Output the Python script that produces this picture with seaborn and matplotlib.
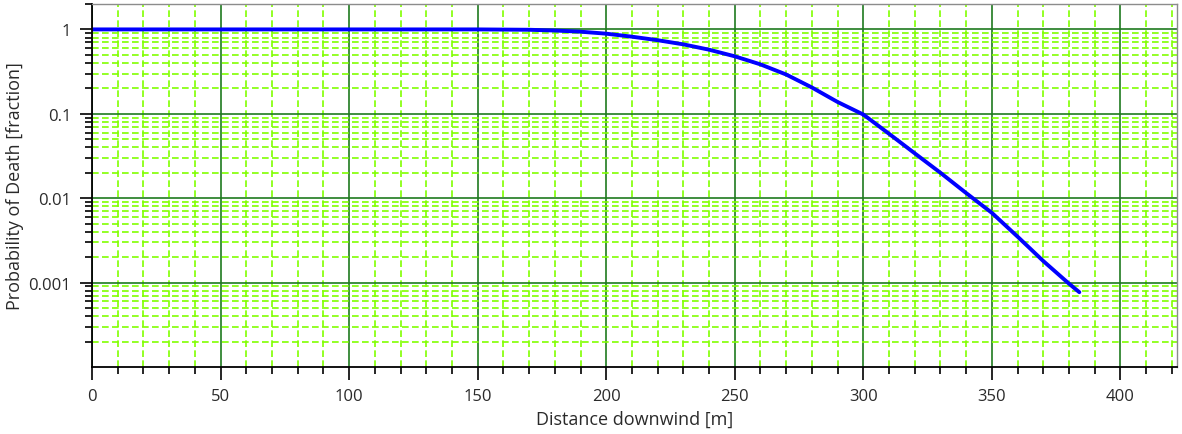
#Import libraries
import numpy as np
import pandas as pd
import matplotlib.pyplot as plt
import seaborn as sns
from matplotlib.ticker import LogLocator, MultipleLocator, FixedLocator, NullFormatter

#Data
distance = [0, 50, 100, 150, 170, 180, 190, 200, 210, 220, 230, 240, 250, 260, 270,
            280, 290, 300, 310, 320, 330, 340, 350, 360, 370, 380, 384]
prob_death = [1.0, 1.0, 1.0, 1.0, 0.99, 0.97, 0.94, 0.89, 0.82, 0.745, 0.665, 0.575, 0.48,
              0.385, 0.292, 0.205, 0.138, 0.098, 0.058, 0.034, 0.020, 0.0115, 0.0067,
              0.0035, 0.0018, 0.00097, 0.00077]
x_ticks = [0, 50, 100, 150, 200, 250, 300, 350, 400]
y_ticks = [1, 0.1, 0.01, 0.001]
y_tick_labels = ['1', '0.1', '0.01', '0.001']

df = pd.DataFrame({'Distance': distance, 'Probability': prob_death})

sns.set_style('ticks')
plt.rcParams['font.family'] = ['Open Sans', 'DejaVu Sans']

fig = plt.figure(figsize=(11.82, 4.35), dpi=100)
ax = fig.add_axes([0.0778, 0.154, 0.918, 0.8345])

sns.lineplot(x='Distance', y='Probability', data=df, color='#0000ff', linewidth=2.8, ax=ax)

ax.set_yscale('log')
ax.set_xlim(0, 422)
ax.set_ylim(0.0001, 2)

#ticks
ax.xaxis.set_major_locator(FixedLocator(x_ticks))
ax.xaxis.set_minor_locator(MultipleLocator(10))
ax.yaxis.set_major_locator(FixedLocator(y_ticks))
ax.set_yticklabels(y_tick_labels)
ax.yaxis.set_minor_locator(LogLocator(base=10, subs=np.arange(2, 10)))
ax.yaxis.set_minor_formatter(NullFormatter())
ax.tick_params(which='major', length=9, width=1.2, color='black', labelsize=12,
               labelcolor='#2a2a2a', pad=6)
ax.tick_params(which='minor', length=5, width=1.2, color='black')

#grid
ax.grid(which='minor', color='#80ff00', linestyle=(0, (4, 2)), linewidth=1.2)
ax.grid(which='major', color='#1f7a1f', linestyle='-', linewidth=1.2)
ax.set_axisbelow(True)

for side in ['left', 'bottom']:
    ax.spines[side].set_color('black')
    ax.spines[side].set_linewidth(1.3)
for side in ['top', 'right']:
    ax.spines[side].set_visible(True)
    ax.spines[side].set_color('#8c8c8c')
    ax.spines[side].set_linewidth(1.0)

ax.set_xlabel('Distance downwind [m]', fontsize=13, color='#2a2a2a', labelpad=4)
ax.set_ylabel('Probability of Death [fraction]', fontsize=13, color='#2a2a2a', labelpad=3)

plt.savefig('out.png', dpi=100)
